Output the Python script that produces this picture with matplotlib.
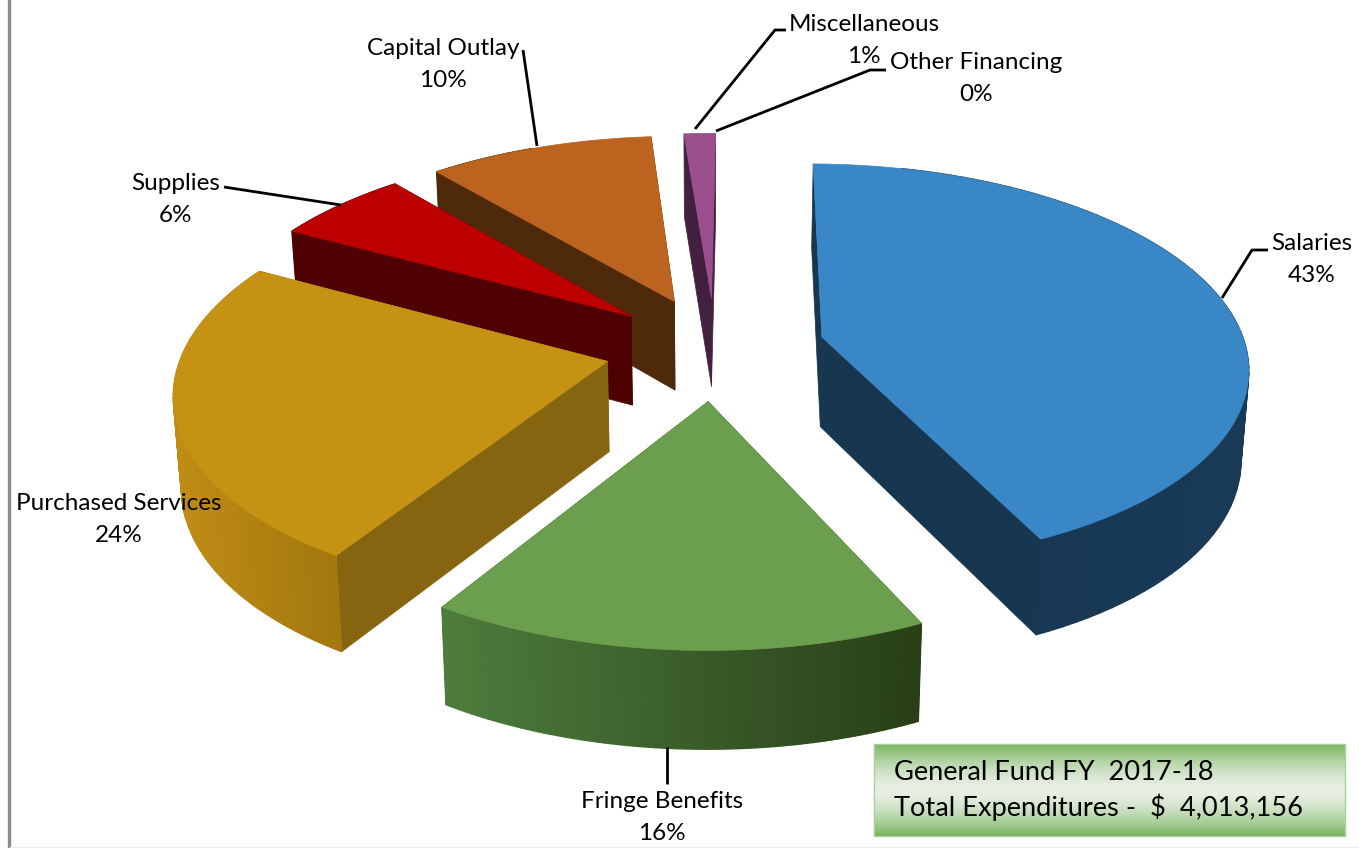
import matplotlib
matplotlib.use("Agg")
import matplotlib.pyplot as plt
import numpy as np
from matplotlib.colors import to_rgb
from matplotlib.patches import Polygon, Rectangle

categories = ["Salaries", "Fringe Benefits", "Purchased Services", "Supplies",
              "Capital Outlay", "Miscellaneous", "Other Financing"]
values = [43.0, 16.0, 24.0, 6.0, 10.0, 1.4, 0.0]
percent_labels = ["43%", "16%", "24%", "6%", "10%", "1%", "0%"]

top_colors = ["#3A87C8", "#6B9F4E", "#C69214", "#BC0000", "#BC631F", "#9A4F8C", "#9A4F8C"]
wall_colors = ["#17364F", "#2F4A1E", "#85650F", "#4F0000", "#4E2A0B", "#43203F", "#43203F"]
rim_left = ["#17364F", "#4D7D3D", "#C08C14", "#4F0000", "#4E2A0B", "#43203F", "#43203F"]
rim_right = ["#183A57", "#293F17", "#A3780F", "#4F0000", "#4E2A0B", "#43203F", "#43203F"]

label_pos = [(1312, 257), (662, 815), (119, 517), (176, 197), (443, 62), (864, 38), (976, 76)]
leaders = [
    [(1222, 298), (1252, 250), (1268, 250)],
    [(667, 747), (667, 784)],
    None,
    [(341, 205), (224, 187)],
    [(537, 146), (523, 50)],
    [(695, 129), (775, 30), (786, 30)],
    [(716, 131), (870, 70), (886, 70)],
]

CX, CY = 715, 348
FOCAL, PERSP, TILT = 424, 0.135, 0.47
EXPLODE = 0.26
DEPTH = 90
START = 0.6


def project(x, y, lower=False):
    s = 1 / (1 - PERSP * y)
    px = FOCAL * x * s
    py = CY + FOCAL * TILT * y * s
    if lower:
        return CX + px * 0.985, py + DEPTH * np.sqrt(s)
    return CX + px, py


def slice_points(t0, t1, n=80):
    mid = np.radians((t0 + t1) / 2)
    ex, ey = EXPLODE * np.sin(mid), -EXPLODE * np.cos(mid)
    th = np.radians(np.linspace(t0, t1, n))
    return ex, ey, ex + np.sin(th), ey - np.cos(th)


fig = plt.figure(figsize=(13.59, 8.48), dpi=100)
ax = fig.add_axes([0, 0, 1, 1])
ax.set_xlim(0, 1359)
ax.set_ylim(848, 0)
ax.axis("off")

ax.plot([8.5, 8.5], [0, 848], color="#8C8C8C", lw=2.4)
ax.plot([10, 1359], [846.5, 846.5], color="#EEEEEE", lw=1)

shares = np.array(values) / sum(values) * 360
ends = START + np.cumsum(shares)
starts = ends - shares

# back slices first so the front ones overlap them
order = [5, 4, 3, 2, 0, 1]
for i in order:
    ex, ey, xs, ys = slice_points(starts[i], ends[i])
    top_x, top_y = project(xs, ys)
    low_x, low_y = project(xs, ys, lower=True)
    ax_x, ax_y = project(ex, ey)
    alx, aly = project(ex, ey, lower=True)

    # radial walls
    ax.add_patch(Polygon([(ax_x, ax_y), (top_x[0], top_y[0]), (low_x[0], low_y[0]), (alx, aly)],
                         fc=wall_colors[i], ec=wall_colors[i], lw=0.5, zorder=2))
    ax.add_patch(Polygon([(ax_x, ax_y), (top_x[-1], top_y[-1]), (low_x[-1], low_y[-1]), (alx, aly)],
                         fc=wall_colors[i], ec=wall_colors[i], lw=0.5, zorder=2))

    # outer rim, shaded in strips along the arc
    c0, c1 = np.array(to_rgb(rim_left[i])), np.array(to_rgb(rim_right[i]))
    span = max(top_x.max() - top_x.min(), 1)
    for j in range(len(xs) - 1):
        if ys[j] < ey and ys[j + 1] < ey and abs(xs[j]) < 0.5:
            continue
        f = (top_x[j] - top_x.min()) / span
        col = c0 + (c1 - c0) * f
        ax.add_patch(Polygon([(top_x[j], top_y[j]), (top_x[j + 1], top_y[j + 1]),
                              (low_x[j + 1], low_y[j + 1]), (low_x[j], low_y[j])],
                             fc=col, ec=col, lw=1.0, zorder=2))

    ax.add_patch(Polygon(np.column_stack([np.r_[ax_x, top_x], np.r_[ax_y, top_y]]),
                         fc=top_colors[i], ec=top_colors[i], lw=0.5, zorder=2))

font = dict(family="Lato", color="black", fontsize=17.5, ha="center", va="baseline", zorder=5)
for i, name in enumerate(categories):
    lx, ly = label_pos[i]
    ax.text(lx, ly - 7, name, **font)
    ax.text(lx, ly + 25, percent_labels[i], **font)
    if leaders[i]:
        ax.plot(*zip(*leaders[i]), color="black", lw=2, zorder=4, solid_capstyle="butt")

# text box with a vertical green gradient
edge = np.array(to_rgb("#78B65F"))
mid = np.array(to_rgb("#E8EFE4"))
grad = np.abs(np.linspace(-1, 1, 92)) ** 1.6
img = (mid + (edge - mid) * grad[:, None])[:, None, :]
ax.imshow(img, extent=(874, 1345, 836, 744), aspect="auto", zorder=3)
ax.add_patch(Rectangle((874, 744), 471, 92, fc="none", ec="#A9D09A", lw=1, zorder=3))
ax.set_xlim(0, 1359)
ax.set_ylim(848, 0)
ax.text(894, 773, "General Fund FY  2017-18", family="Lato", fontsize=19.6, va="center", zorder=5)
ax.text(894, 807, "Total Expenditures -  $  4,013,156", family="Lato", fontsize=19.6, va="center", zorder=5)

fig.savefig("out.png", dpi=100)
